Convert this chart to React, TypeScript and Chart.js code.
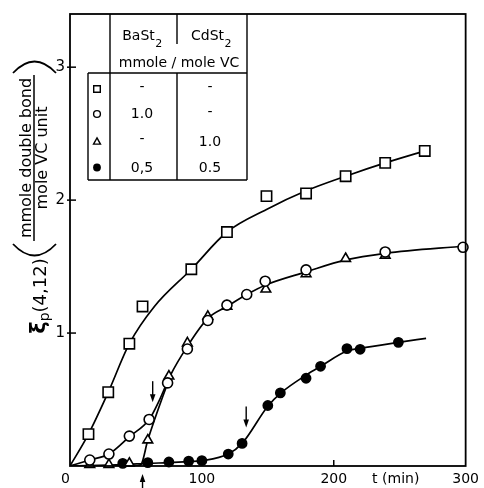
import React, { useEffect, useRef } from "react";
import { Chart, registerables } from "chart.js";

Chart.register(...registerables);

// ---- measured points (t in min, value in mmole double bond / mole VC unit)
const squareT = [14, 29, 45, 55, 92, 119, 149, 179, 209, 239, 269];
const squareV = [0.24, 0.555, 0.92, 1.2, 1.48, 1.76, 2.03, 2.05, 2.18, 2.28, 2.37];

const circleT = [15, 29.5, 45, 60, 74, 89, 104.5, 119, 134, 148, 179, 239, 298];
const circleV = [0.045, 0.09, 0.225, 0.35, 0.625, 0.88, 1.095, 1.21, 1.29, 1.39, 1.475, 1.61, 1.645];

const triangleT = [15, 29.5, 45, 59, 75, 89, 104.5, 119, 148.5, 179, 209, 239];
const triangleV = [0.01, 0.01, 0.02, 0.195, 0.675, 0.925, 1.125, 1.2, 1.33, 1.445, 1.56, 1.585];

const filledT = [40, 59, 75, 90, 100, 120, 130.5, 150, 159.5, 179, 190, 210, 220, 249];
const filledV = [0.02, 0.025, 0.03, 0.037, 0.04, 0.09, 0.17, 0.455, 0.55, 0.66, 0.75, 0.883, 0.878, 0.93];

// ---- fitted curves
const squareFitT = [0, 14, 29, 45, 64, 92, 119, 149, 179, 209, 239, 269];
const squareFitV = [0, 0.24, 0.555, 0.92, 1.2, 1.48, 1.76, 1.93, 2.07, 2.18, 2.28, 2.37];

const circleFitT = [0, 15, 29.5, 45, 60, 68, 76, 89, 104.5, 119, 134, 148, 179, 209, 239, 300];
const circleFitV = [0, 0.045, 0.09, 0.22, 0.35, 0.5, 0.68, 0.9, 1.11, 1.2, 1.29, 1.36, 1.46, 1.55, 1.6, 1.655];

const triangleFitT = [0, 48, 53.7, 59, 76];
const triangleFitV = [0, 0, 0.01, 0.195, 0.68];

const filledFitT = [0, 40, 60, 75, 90, 100, 120, 130.5, 150, 160, 180, 190, 210, 220, 249, 270];
const filledFitV = [0, 0.01, 0.02, 0.025, 0.033, 0.04, 0.09, 0.17, 0.45, 0.55, 0.69, 0.75, 0.865, 0.885, 0.93, 0.96];

// ---- axes
const xMin = 0;
const xMax = 300;
const yMin = 0;
const yMax = 3.4;
const xTickValues = [0, 100, 200, 300];
const xTickMarks = [100, 200];
const yTickValues = [1, 2, 3];
const xTitle = "t (min)";
const xTitleAt = 247;

// ---- arrows (t, value at tip)
const downArrowT = [62.7, 133.6];
const downArrowV = [0.48, 0.29];
const upArrowT = [55];

// ---- y axis title
const yTitleSymbol = "ξ";
const yTitleSub = "p";
const yTitleArgs = "(4,12)";
const yTitleNumerator = "mmole double bond";
const yTitleDenominator = "mole VC unit";

// ---- table / legend
const tableHead1 = "BaSt";
const tableHead2 = "CdSt";
const tableHeadSub = "2";
const tableUnit = "mmole / mole VC";
const tableMarkers = ["square", "circle", "triangle", "filled"];
const tableBaSt = ["-", "1.0", "-", "0,5"];
const tableCdSt = ["-", "-", "1.0", "0.5"];

const FONT = '"DejaVu Sans", sans-serif';

const toXY = (ts: number[], vs: number[]) => ts.map((t, i) => ({ x: t, y: vs[i] }));

function drawMarker(ctx: CanvasRenderingContext2D, kind: string, x: number, y: number, s: number) {
  ctx.beginPath();
  if (kind === "square") {
    ctx.rect(x - s, y - s, 2 * s, 2 * s);
    ctx.fillStyle = "#fff";
    ctx.fill();
    ctx.stroke();
  } else if (kind === "circle") {
    ctx.arc(x, y, s, 0, Math.PI * 2);
    ctx.fillStyle = "#fff";
    ctx.fill();
    ctx.stroke();
  } else if (kind === "triangle") {
    ctx.moveTo(x, y - s * 1.1);
    ctx.lineTo(x + s * 1.05, y + s * 0.8);
    ctx.lineTo(x - s * 1.05, y + s * 0.8);
    ctx.closePath();
    ctx.fillStyle = "#fff";
    ctx.fill();
    ctx.stroke();
  } else {
    ctx.arc(x, y, s + 0.6, 0, Math.PI * 2);
    ctx.fillStyle = "#000";
    ctx.fill();
  }
}

const decorPlugin = {
  id: "decor",
  afterDraw(chart: any) {
    const ctx: CanvasRenderingContext2D = chart.ctx;
    const area = chart.chartArea;
    const xs = chart.scales.x;
    const ys = chart.scales.y;
    const L = area.left;
    const T = area.top;
    ctx.save();
    ctx.strokeStyle = "#000";
    ctx.fillStyle = "#000";

    // frame
    ctx.lineWidth = 1.8;
    ctx.strokeRect(area.left, area.top, area.right - area.left, area.bottom - area.top);

    // tick marks
    ctx.lineWidth = 1.5;
    xTickMarks.forEach((v) => {
      const px = xs.getPixelForValue(v);
      ctx.beginPath();
      ctx.moveTo(px, area.bottom);
      ctx.lineTo(px, area.bottom - 6);
      ctx.stroke();
    });
    yTickValues.forEach((v) => {
      const py = ys.getPixelForValue(v);
      ctx.beginPath();
      ctx.moveTo(area.left - 3, py);
      ctx.lineTo(area.left + 6, py);
      ctx.stroke();
    });

    // arrows
    const head = (x: number, y: number, dir: number) => {
      ctx.beginPath();
      ctx.moveTo(x, y);
      ctx.lineTo(x - 2.8, y - dir * 8);
      ctx.lineTo(x + 2.8, y - dir * 8);
      ctx.closePath();
      ctx.fill();
    };
    ctx.lineWidth = 1.4;
    downArrowT.forEach((t, i) => {
      const px = xs.getPixelForValue(t);
      const py = ys.getPixelForValue(downArrowV[i]);
      ctx.beginPath();
      ctx.moveTo(px, py - 21);
      ctx.lineTo(px, py - 4);
      ctx.stroke();
      head(px, py, 1);
    });
    upArrowT.forEach((t) => {
      const px = xs.getPixelForValue(t);
      const py = area.bottom + 8;
      ctx.beginPath();
      ctx.moveTo(px, py + 4);
      ctx.lineTo(px, chart.height);
      ctx.stroke();
      head(px, py, -1);
    });

    // table
    ctx.lineWidth = 1.4;
    const line = (x1: number, y1: number, x2: number, y2: number) => {
      ctx.beginPath();
      ctx.moveTo(x1, y1);
      ctx.lineTo(x2, y2);
      ctx.stroke();
    };
    const xA = L + 18;
    const xB = L + 40;
    const xC = L + 107;
    const xD = L + 177;
    const yH = T + 59;
    const yE = T + 166;
    line(xB, T, xB, yE);
    line(xC, T, xC, T + 30);
    line(xC, yH, xC, yE);
    line(xD, T, xD, yE);
    line(xA, yH, xD, yH);
    line(xA, yH, xA, yE);
    line(xA, yE, xD, yE);

    const subText = (main: string, sub: string, cx: number, base: number) => {
      ctx.font = `14px ${FONT}`;
      const w1 = ctx.measureText(main).width;
      ctx.font = `11px ${FONT}`;
      const w2 = ctx.measureText(sub).width;
      const x0 = cx - (w1 + w2) / 2;
      ctx.textAlign = "left";
      ctx.textBaseline = "alphabetic";
      ctx.font = `14px ${FONT}`;
      ctx.fillText(main, x0, base);
      ctx.font = `11px ${FONT}`;
      ctx.fillText(sub, x0 + w1 + 0.5, base + 7);
    };
    subText(tableHead1, tableHeadSub, L + 72, T + 26);
    subText(tableHead2, tableHeadSub, L + 141, T + 26);
    ctx.font = `14px ${FONT}`;
    ctx.textAlign = "center";
    ctx.textBaseline = "alphabetic";
    ctx.fillText(tableUnit, L + 109, T + 53);

    const rowY = [T + 75, T + 100, T + 127.5, T + 153.5];
    ctx.lineWidth = 1.4;
    tableMarkers.forEach((m, i) => {
      drawMarker(ctx, m, L + 27, rowY[i], m === "circle" ? 3.4 : m === "triangle" ? 3.3 : m === "filled" ? 3.3 : 3.3);
    });
    ctx.fillStyle = "#000";
    ctx.font = `14px ${FONT}`;
    ctx.textAlign = "center";
    ctx.textBaseline = "middle";
    tableBaSt.forEach((s, i) => ctx.fillText(s, L + 72, rowY[i] + (s === "-" ? -2 : 0.5)));
    tableCdSt.forEach((s, i) => ctx.fillText(s, L + 140, rowY[i] + (s === "-" ? -2 : 0.5)));

    // y-axis title
    const rot = (cx: number, cy: number, fn: () => void) => {
      ctx.save();
      ctx.translate(cx, cy);
      ctx.rotate(-Math.PI / 2);
      fn();
      ctx.restore();
    };
    ctx.textBaseline = "alphabetic";
    rot(31, 158, () => {
      ctx.font = `16px ${FONT}`;
      ctx.textAlign = "center";
      ctx.fillText(yTitleNumerator, 0, 0);
    });
    rot(47, 158, () => {
      ctx.font = `16px ${FONT}`;
      ctx.textAlign = "center";
      ctx.fillText(yTitleDenominator, 0, 0);
    });
    ctx.lineWidth = 1.5;
    line(34, 75, 34, 241);
    rot(46, 296, () => {
      ctx.textAlign = "left";
      ctx.font = `bold 21px ${FONT}`;
      const w1 = ctx.measureText(yTitleSymbol).width;
      ctx.font = `14px ${FONT}`;
      const w2 = ctx.measureText(yTitleSub).width;
      ctx.font = `18px ${FONT}`;
      const w3 = ctx.measureText(yTitleArgs).width;
      const x0 = -(w1 + w2 + w3) / 2;
      ctx.font = `bold 21px ${FONT}`;
      ctx.fillText(yTitleSymbol, x0, -1);
      ctx.font = `14px ${FONT}`;
      ctx.fillText(yTitleSub, x0 + w1, 3);
      ctx.font = `18px ${FONT}`;
      ctx.fillText(yTitleArgs, x0 + w1 + w2, 0);
    });
    // large parentheses
    ctx.lineWidth = 1.8;
    ctx.beginPath();
    ctx.moveTo(13, 244);
    ctx.quadraticCurveTo(34.5, 267, 56, 244);
    ctx.stroke();
    ctx.beginPath();
    ctx.moveTo(13, 73);
    ctx.quadraticCurveTo(34.5, 50, 56, 73);
    ctx.stroke();

    ctx.restore();
  },
};

export default function App() {
  const ref = useRef<HTMLCanvasElement>(null);
  useEffect(() => {
    const canvas = ref.current;
    if (!canvas) return;

    const fit = (ts: number[], vs: number[]) => ({
      data: toXY(ts, vs),
      showLine: true,
      borderColor: "#000",
      borderWidth: 1.7,
      pointRadius: 0,
      fill: false,
      cubicInterpolationMode: "monotone",
      order: 5,
    });
    const marks = (ts: number[], vs: number[], style: string, r: number, filled: boolean) => ({
      data: toXY(ts, vs),
      showLine: false,
      pointStyle: style,
      pointRadius: r,
      pointBorderWidth: 1.6,
      pointBorderColor: "#000",
      pointBackgroundColor: filled ? "#000" : "#fff",
      borderColor: "#000",
      backgroundColor: filled ? "#000" : "#fff",
      clip: false,
      order: 0,
    });

    const chart = new Chart(canvas, {
      type: "scatter",
      data: {
        datasets: [
          fit(squareFitT, squareFitV),
          fit(circleFitT, circleFitV),
          fit(triangleFitT, triangleFitV),
          fit(filledFitT, filledFitV),
          marks(squareT, squareV, "rect", 7.3, false),
          marks(circleT, circleV, "circle", 5, false),
          marks(triangleT, triangleV, "triangle", 5.6, false),
          marks(filledT, filledV, "circle", 4.6, true),
        ] as any,
      },
      options: {
        responsive: false,
        animation: false,
        events: [],
        layout: { padding: { left: 0, top: 13, right: 17, bottom: 0 } },
        plugins: { legend: { display: false }, tooltip: { enabled: false } },
        scales: {
          x: {
            type: "linear",
            min: xMin,
            max: xMax,
            grid: { display: false, drawTicks: false },
            border: { display: false },
            afterBuildTicks: (s: any) => {
              s.ticks = [...xTickValues, xTitleAt].sort((a, b) => a - b).map((v) => ({ value: v }));
            },
            afterFit: (s: any) => {
              s.height = 22;
            },
            ticks: {
              autoSkip: false,
              maxRotation: 0,
              padding: 5,
              color: "#000",
              font: { family: FONT, size: 14 },
              callback: (v: any) => (v === xTitleAt ? xTitle : v === 0 ? "0  " : String(v)),
            },
          },
          y: {
            type: "linear",
            min: yMin,
            max: yMax,
            grid: { display: false, drawTicks: false },
            border: { display: false },
            afterBuildTicks: (s: any) => {
              s.ticks = yTickValues.map((v) => ({ value: v }));
            },
            afterFit: (s: any) => {
              s.width = 70;
            },
            ticks: {
              autoSkip: false,
              padding: 5,
              color: "#000",
              font: { family: FONT, size: 15 },
              callback: (v: any) => String(v),
            },
          },
        },
      },
      plugins: [decorPlugin],
    } as any);

    return () => chart.destroy();
  }, []);

  return (
    <div style={{ position: "fixed", left: 0, top: 0, width: 484, height: 488, background: "#fff" }}>
      <canvas ref={ref} width={484} height={488} style={{ display: "block" }} />
    </div>
  );
}
